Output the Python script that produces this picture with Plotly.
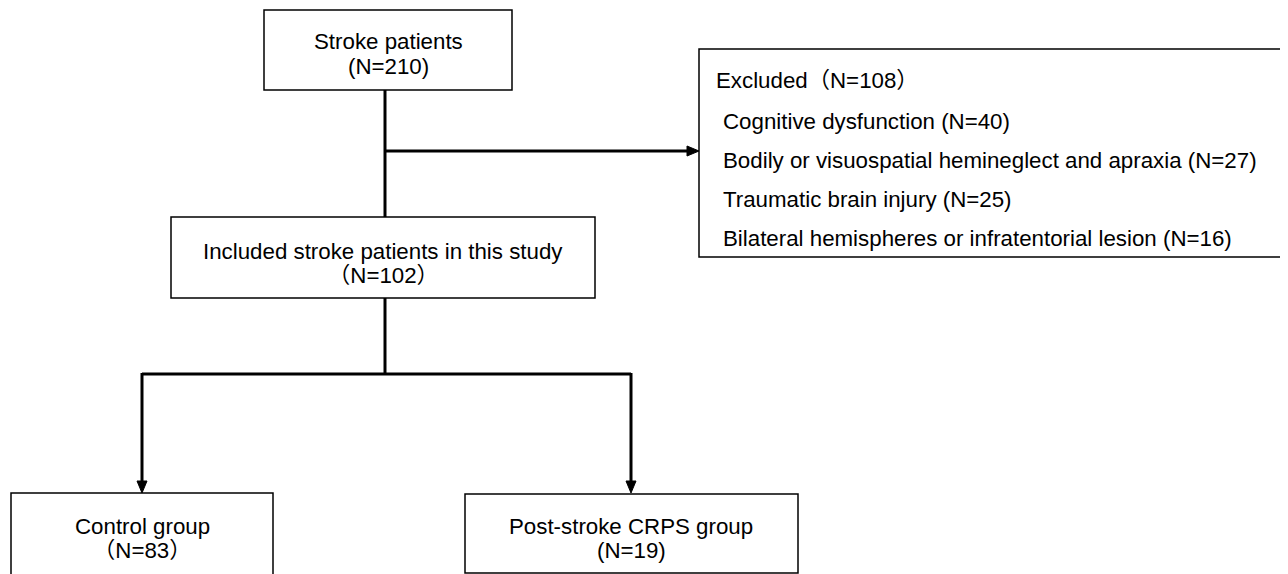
import plotly.graph_objects as go

# ---- content ----
box_top_lines = ["Stroke patients", "(N=210)"]
box_included_lines = ["Included stroke patients in this study", "（N=102）"]
excluded_title = "Excluded（N=108）"
excluded_reasons = ["Cognitive dysfunction", "Bodily or visuospatial hemineglect and apraxia",
                    "Traumatic brain injury", "Bilateral hemispheres or infratentorial lesion"]
excluded_counts = [40, 27, 25, 16]
control_lines = ["Control group", "（N=83）"]
crps_lines = ["Post-stroke CRPS group", "(N=19)"]

# page has an 8px body margin; map axis units to window pixels
OFF = 8
W, H = 1288, 574
FONT = dict(family="Liberation Sans, Arial, Noto Sans CJK JP, sans-serif", size=22.3, color="black")

fig = go.Figure()
shapes = []
annotations = []

def box(x0, y0, x1, y1):
    shapes.append(dict(type="rect", x0=x0, y0=y0, x1=x1, y1=y1, xref="x", yref="y",
                       line=dict(color="black", width=1.5), fillcolor="white", layer="below"))

def line(x0, y0, x1, y1):
    shapes.append(dict(type="line", x0=x0, y0=y0, x1=x1, y1=y1, xref="x", yref="y",
                       line=dict(color="black", width=3)))

def tri(points):
    p = "M " + " L ".join(f"{x},{y}" for x, y in points) + " Z"
    shapes.append(dict(type="path", path=p, xref="x", yref="y", fillcolor="black",
                       line=dict(color="black", width=1)))

def text(x, y, s, anchor="center"):
    annotations.append(dict(x=x, y=y, xref="x", yref="y", text=s, showarrow=False,
                            xanchor=anchor, yanchor="middle", font=FONT))

# boxes
box(264, 10, 512, 90)
box(171, 217, 595, 298)
box(699, 49, 1286, 257)
box(11, 493, 273, 600)
box(465, 494, 798, 573)

# connectors
line(385, 90, 385, 217)
line(385, 151, 689, 151)
tri([(687, 146), (699, 151), (687, 156)])
line(385, 298, 385, 374)
line(142, 374, 631, 374)
line(142, 373, 142, 483)
tri([(137, 481), (142, 493), (147, 481)])
line(631, 373, 631, 483)
tri([(626, 481), (631, 493), (636, 481)])

# texts
for i, s in enumerate(box_top_lines):
    text(388, 41 + i * 25, s)
for i, s in enumerate(box_included_lines):
    text(383, 251 + i * 24, s)
text(714, 80, excluded_title, "left")
for i, (r, c) in enumerate(zip(excluded_reasons, excluded_counts)):
    text(721, 121 + i * 39, f"{r} (N={c})", "left")
for i, s in enumerate(control_lines):
    text(142, 526 + i * 24, s)
for i, s in enumerate(crps_lines):
    text(631, 526 + i * 24, s)

fig.update_layout(
    width=W - OFF, height=H - OFF, margin=dict(l=0, r=0, t=0, b=0),
    paper_bgcolor="white", plot_bgcolor="white",
    xaxis=dict(range=[OFF, W], visible=False, fixedrange=True),
    yaxis=dict(range=[H, OFF], visible=False, fixedrange=True),
    shapes=shapes, annotations=annotations, showlegend=False,
)
fig.write_html("out.html", config={"displayModeBar": False})
